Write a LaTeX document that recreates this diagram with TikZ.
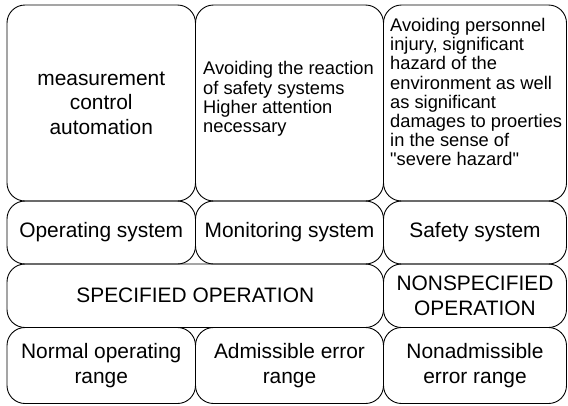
\documentclass[tikz,border=0pt]{standalone}
\usepackage{fontspec}
\setmainfont{Liberation Sans}
\newcommand\bigtxt{\fontsize{20.9}{24.5}\selectfont}
\newcommand\smalltxt{\fontsize{18.3}{19.2}\selectfont}
\begin{document}
\begin{tikzpicture}[x=1pt,y=-1pt,
  box/.style={draw=black, line width=0.9pt, rounded corners=18pt, inner sep=0pt,
    align=center, font=\bigtxt, rectangle},
  lefttext/.style={inner sep=0pt, anchor=north west, align=left, font=\smalltxt}]
\useasboundingbox (0,0) rectangle (568,405);
% row 1
\node[box, minimum width=188.5pt, minimum height=196pt] (mca) at (101.25,103) {measurement\\control\\automation};
\node[box, minimum width=188pt, minimum height=196pt] (avr) at (289.5,103) {};
\node[box, minimum width=183pt, minimum height=196pt] (avp) at (475,103) {};
\node[lefttext] (avrt) at (203,61.5) {Avoiding the reaction\\of safety systems\\Higher attention\\necessary};
\node[lefttext] (avpt) at (390,18) {Avoiding personnel\\injury, significant\\hazard of the\\environment as well\\as significant\\damages to proerties\\in the sense of\\\textquotedbl severe hazard\textquotedbl};
% row 2
\node[box, minimum width=188.5pt, minimum height=63pt] (ops) at (101.25,232.5) {Operating system};
\node[box, minimum width=188pt, minimum height=63pt] (mon) at (289.5,232.5) {Monitoring system};
\node[box, minimum width=183pt, minimum height=63pt] (saf) at (475,232.5) {Safety system};
% row 3
\node[box, minimum width=376.5pt, minimum height=63.5pt] (spec) at (195.25,295.75) {SPECIFIED OPERATION};
\node[box, minimum width=183pt, minimum height=63.5pt] (nspec) at (475,295.75) {NONSPECIFIED\\OPERATION};
% row 4
\node[box, minimum width=188.5pt, minimum height=76pt] (nor) at (101.25,365.5) {Normal operating\\range};
\node[box, minimum width=188pt, minimum height=76pt] (adm) at (289.5,365.5) {Admissible error\\range};
\node[box, minimum width=183pt, minimum height=76pt] (nadm) at (475,365.5) {Nonadmissible\\error range};
\end{tikzpicture}
\end{document}
